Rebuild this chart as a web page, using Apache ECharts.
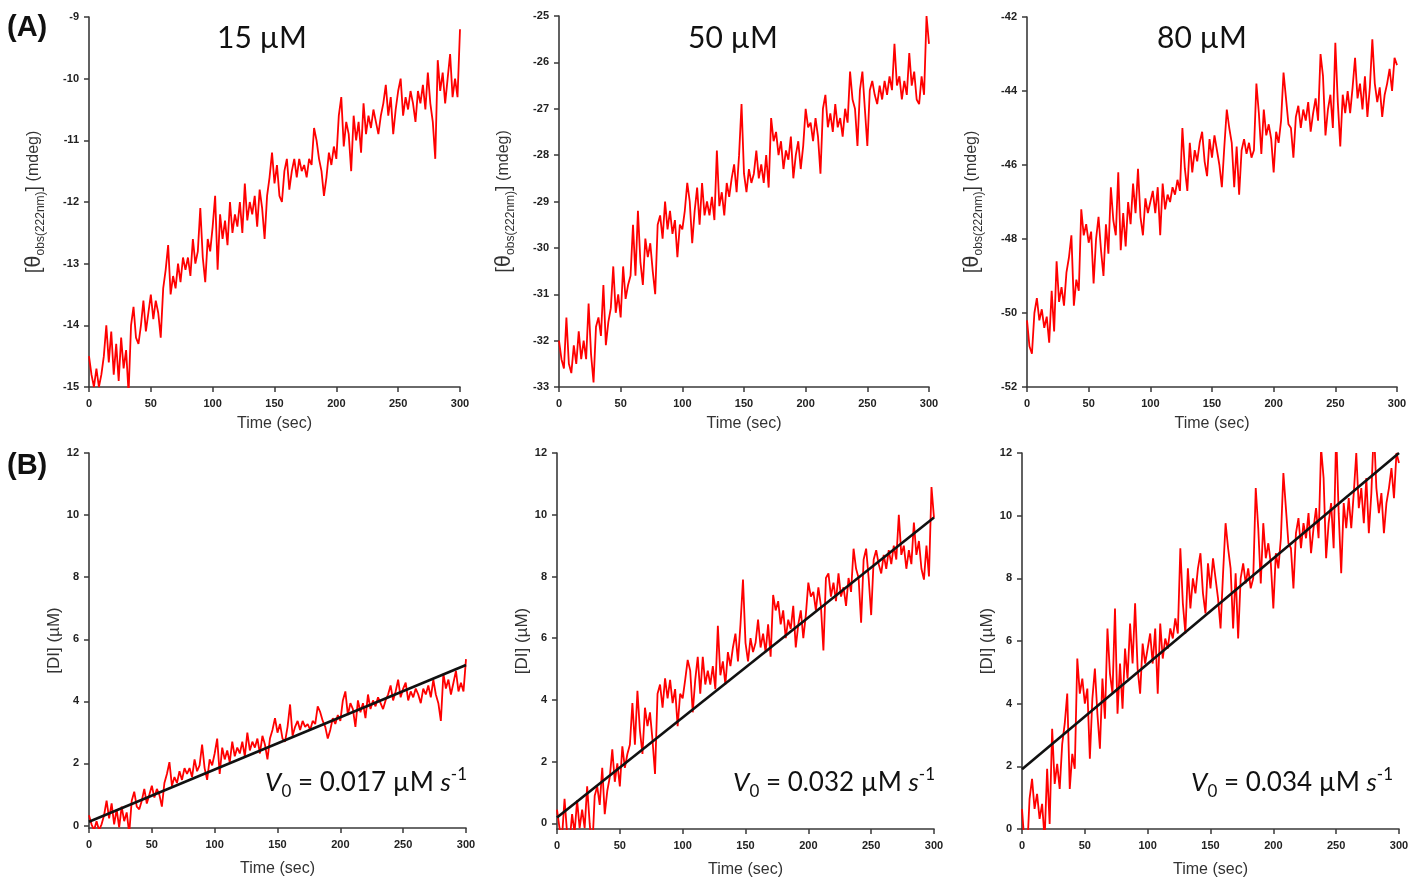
<!DOCTYPE html>
<html>
<head>
<meta charset="utf-8">
<script src="https://cdn.jsdelivr.net/npm/echarts@6/dist/echarts.min.js"></script>
<style>
html,body{margin:0;padding:0;background:#fff;}
#chart{width:1421px;height:878px;}
</style>
</head>
<body>
<div id="chart"></div>
<script>
// ---- data (one reading every 2 s) ----
const TIME = [0,2,4,6,8,10,12,14,16,18,20,22,24,26,28,30,32,34,36,38,40,42,44,46,48,50,52,54,56,58,
60,62,64,66,68,70,72,74,76,78,80,82,84,86,88,90,92,94,96,98,100,102,104,106,108,110,112,114,116,118,
120,122,124,126,128,130,132,134,136,138,140,142,144,146,148,150,152,154,156,158,160,162,164,166,168,170,172,174,176,178,
180,182,184,186,188,190,192,194,196,198,200,202,204,206,208,210,212,214,216,218,220,222,224,226,228,230,232,234,236,238,
240,242,244,246,248,250,252,254,256,258,260,262,264,266,268,270,272,274,276,278,280,282,284,286,288,290,292,294,296,298,300];

const THETA_15 = [-14.5,-14.8,-15.0,-14.7,-15.0,-14.8,-14.5,-14.0,-14.6,-14.1,
-14.8,-14.3,-14.9,-14.2,-14.7,-14.4,-15.1,-14.0,-13.7,-14.2,
-14.3,-14.0,-13.6,-14.1,-13.8,-13.5,-13.9,-13.6,-13.8,-14.2,
-13.4,-13.1,-12.7,-13.5,-13.2,-13.4,-13.0,-13.3,-12.9,-13.1,
-12.9,-13.2,-12.6,-13.0,-12.8,-12.1,-12.9,-13.3,-12.6,-12.8,
-12.4,-11.9,-13.1,-12.2,-12.6,-12.3,-12.7,-12.0,-12.5,-12.2,
-12.4,-12.0,-12.5,-11.7,-12.3,-12.0,-12.2,-11.9,-12.4,-11.8,
-12.1,-12.6,-11.9,-11.6,-11.2,-11.7,-11.4,-11.9,-12.0,-11.5,
-11.3,-11.8,-11.5,-11.3,-11.6,-11.3,-11.5,-11.4,-11.6,-11.3,
-11.4,-10.8,-11.0,-11.3,-11.5,-11.9,-11.6,-11.2,-11.4,-11.1,
-11.3,-10.6,-10.3,-11.1,-10.7,-10.9,-11.5,-10.6,-11.0,-10.7,
-11.2,-10.4,-10.9,-10.6,-10.8,-10.5,-10.7,-10.9,-10.6,-10.4,
-10.1,-10.6,-10.3,-10.9,-10.5,-10.2,-10.0,-10.6,-10.3,-10.5,
-10.2,-10.4,-10.7,-10.2,-10.4,-10.1,-10.5,-9.9,-10.4,-10.7,
-11.3,-9.7,-10.2,-9.9,-10.4,-10.0,-9.6,-10.3,-10.0,-10.3,
-9.2];

const THETA_50 = [-32.0,-32.4,-32.6,-31.5,-32.5,-32.7,-32.1,-32.5,-31.8,-32.4,
-32.0,-32.4,-31.2,-32.3,-32.9,-31.7,-31.5,-31.9,-30.8,-32.1,
-31.6,-31.3,-30.4,-31.4,-31.0,-31.5,-30.4,-31.1,-30.8,-30.6,
-29.5,-30.6,-29.2,-30.3,-30.8,-29.8,-30.2,-29.9,-30.5,-31.0,
-29.5,-29.3,-29.8,-29.0,-29.6,-29.2,-29.7,-29.4,-30.2,-29.5,
-29.6,-29.2,-28.6,-29.0,-29.9,-29.2,-28.7,-29.5,-28.6,-29.3,
-29.0,-29.3,-28.9,-29.4,-27.9,-29.1,-28.8,-29.3,-28.6,-28.9,
-28.5,-28.2,-28.8,-28.0,-26.9,-28.4,-28.8,-28.3,-28.6,-28.4,
-27.9,-28.5,-28.2,-28.6,-28.0,-28.7,-27.2,-27.7,-27.5,-28.0,
-27.7,-28.3,-27.9,-28.1,-27.6,-28.5,-28.0,-27.7,-28.3,-27.8,
-27.0,-27.4,-27.3,-27.7,-27.2,-27.6,-28.4,-27.0,-26.7,-27.4,
-27.1,-27.5,-26.9,-27.4,-27.2,-27.6,-27.0,-27.3,-26.2,-26.8,
-27.0,-27.8,-26.6,-26.2,-27.0,-27.8,-26.6,-26.4,-26.7,-26.9,
-26.5,-26.8,-26.4,-26.7,-26.3,-26.6,-25.6,-26.5,-26.3,-26.8,
-26.4,-26.7,-25.8,-26.5,-26.2,-26.8,-26.9,-26.3,-26.7,-25.0,
-25.6];

const THETA_80 = [-50.2,-50.9,-51.1,-50.0,-49.6,-50.2,-49.9,-50.4,-50.1,-50.8,
-49.4,-50.5,-48.6,-49.7,-49.3,-49.8,-48.9,-48.5,-47.9,-49.8,
-49.1,-49.4,-47.2,-47.9,-47.6,-48.1,-47.8,-49.2,-48.0,-47.4,
-48.3,-49.0,-47.6,-48.4,-46.6,-47.5,-47.9,-46.2,-48.3,-47.3,
-48.2,-47.0,-47.6,-46.5,-47.3,-46.1,-47.4,-47.9,-46.9,-47.3,
-47.0,-46.7,-47.3,-46.6,-47.9,-46.5,-47.2,-46.8,-47.0,-46.6,
-46.8,-46.4,-46.7,-45.0,-46.1,-46.7,-45.4,-46.2,-45.6,-45.9,
-45.4,-45.1,-45.9,-46.3,-45.3,-45.8,-45.2,-45.6,-46.0,-46.6,
-45.5,-44.5,-45.0,-45.4,-46.6,-45.5,-46.8,-45.6,-45.3,-45.7,
-45.4,-45.8,-45.6,-43.8,-44.6,-45.7,-44.5,-45.2,-44.9,-45.3,
-46.2,-45.1,-45.4,-44.8,-43.5,-44.2,-44.9,-45.0,-45.8,-44.7,
-44.4,-45.0,-44.5,-44.8,-44.3,-45.1,-44.6,-44.2,-44.8,-43.0,
-43.6,-45.2,-44.5,-44.1,-45.0,-42.7,-44.3,-45.5,-44.1,-44.6,
-44.0,-44.6,-43.9,-43.1,-44.2,-43.8,-44.5,-43.6,-44.7,-43.9,
-42.6,-43.8,-44.3,-43.9,-44.7,-44.1,-43.8,-43.4,-44.0,-43.1,
-43.3];

const DI_15 = [0.33,0.04,-0.15,0.14,-0.15,0.04,0.33,0.80,0.23,0.71,
0.04,0.52,-0.06,0.61,0.14,0.42,-0.25,0.80,1.09,0.61,
0.52,0.80,1.18,0.71,0.99,1.28,0.90,1.18,0.99,0.61,
1.37,1.66,2.04,1.28,1.56,1.37,1.75,1.47,1.85,1.66,
1.85,1.56,2.13,1.75,1.94,2.61,1.85,1.47,2.13,1.94,
2.32,2.80,1.66,2.51,2.13,2.42,2.04,2.70,2.23,2.51,
2.32,2.70,2.23,2.99,2.42,2.70,2.51,2.80,2.32,2.89,
2.61,2.13,2.80,3.08,3.46,2.99,3.27,2.80,2.70,3.18,
3.90,2.89,3.18,3.37,3.08,3.37,3.18,3.27,3.08,3.37,
3.27,3.84,3.65,3.37,3.18,2.80,3.08,3.46,3.27,3.56,
3.37,4.03,4.32,3.56,3.94,3.75,3.18,4.03,3.65,3.94,
3.46,4.22,3.75,4.03,3.84,4.13,3.94,3.75,4.03,4.22,
4.51,4.03,4.32,4.70,4.13,4.41,4.60,4.03,4.32,4.13,
4.41,4.22,3.94,4.41,4.22,4.51,4.13,4.70,4.22,3.94,
3.37,4.89,4.41,4.70,4.22,4.60,4.98,4.32,4.60,4.32,
5.36];

const DI_50 = [0.45,-0.15,-0.45,0.8,-0.3,-0.6,0.3,-0.3,0.75,-0.15,
0.45,-0.15,1.2,0.0,-0.9,0.9,1.2,0.6,1.8,0.3,
1.05,1.5,2.4,1.35,1.95,1.2,2.5,1.8,2.25,2.55,
3.9,2.55,4.3,3.0,2.25,3.75,3.15,3.6,2.7,1.6,
4.2,4.5,3.75,4.7,4.05,4.65,3.9,4.35,3.15,4.2,
4.05,4.65,5.3,4.95,3.6,4.65,5.4,4.2,5.4,4.5,
4.95,4.5,5.1,4.35,6.4,4.8,5.25,4.5,5.55,5.1,
5.7,6.15,5.25,6.45,7.9,5.85,5.25,6.0,5.55,5.85,
6.6,5.7,6.15,5.55,6.45,5.4,7.4,6.9,7.2,6.45,
6.9,6.0,6.6,6.3,7.05,5.7,6.45,6.9,6.0,6.75,
7.8,7.35,7.5,6.9,7.65,7.05,5.6,7.95,8.1,7.35,
7.8,7.2,8.1,7.35,7.65,7.05,7.95,7.5,8.9,8.25,
7.95,6.5,8.55,8.9,7.95,6.75,8.55,8.85,8.4,8.1,
8.7,8.25,8.85,8.4,9.0,8.55,10.0,8.7,9.0,8.25,
8.85,8.4,9.75,8.7,9.15,8.25,7.9,9.0,8.0,10.9,
9.9];

const DI_80 = [0.64,-0.48,-0.8,0.96,1.6,0.64,1.12,0.32,0.8,-0.32,
1.92,0.16,3.2,1.44,2.08,1.28,2.72,3.36,4.32,1.28,
2.4,1.92,5.44,4.32,4.8,4.0,4.48,2.24,4.16,5.12,
3.68,2.56,4.8,3.52,6.4,4.96,4.32,7.04,3.68,5.28,
3.84,5.76,4.8,6.56,5.28,7.2,5.12,4.32,5.92,5.28,
5.76,6.24,5.28,6.4,4.32,6.56,5.44,6.08,5.76,6.4,
6.08,6.72,6.24,8.96,7.2,6.24,8.32,7.04,8.0,7.52,
8.32,8.8,7.52,6.88,8.48,7.68,8.64,8.0,7.36,6.4,
8.16,9.76,8.96,8.32,6.4,8.16,6.08,8.0,8.48,7.84,
8.32,7.68,8.0,10.88,9.6,7.84,9.76,8.64,9.12,8.48,
7.04,8.8,8.32,9.28,11.36,10.24,9.12,8.96,7.68,9.44,
9.92,8.96,9.76,9.28,10.08,8.8,9.6,10.24,9.28,12.16,
11.2,8.64,9.76,10.4,8.96,12.64,10.08,8.16,10.4,9.6,
10.56,9.6,10.72,12.0,10.24,10.88,9.76,11.2,9.44,10.72,
12.8,10.88,10.08,10.72,9.44,10.4,10.88,11.52,10.56,12.0,
11.68];

// linear fits (end points)
const FIT_TIME = [0, 300];
const FIT_15 = [0.12, 5.17];
const FIT_50 = [0.19, 9.91];
const FIT_80 = [1.91, 12.0];

const CONC_LABELS = ['15 µM', '50 µM', '80 µM'];
const V0_LABELS = ['0.017', '0.032', '0.034'];
const DI_TICKS = [0, 2, 4, 6, 8, 10, 12];

// ---- chart ----
const AXFONT = "'Liberation Sans', Arial, sans-serif";
const AXCOL = '#3a3a3a';

function pairs(xs, ys) { return xs.map((x, i) => [x, ys[i]]); }

const panels = [
  {grid: {left: 89, top: 17, width: 371, height: 370}, y: {min: -15, max: -9, interval: 1}, data: THETA_15, kind: 'A'},
  {grid: {left: 559, top: 16, width: 370, height: 371}, y: {min: -33, max: -25, interval: 1}, data: THETA_50, kind: 'A'},
  {grid: {left: 1027, top: 17, width: 370, height: 370}, y: {min: -52, max: -42, interval: 2}, data: THETA_80, kind: 'A'},
  {grid: {left: 89, top: 453, width: 377, height: 375}, y: {min: -0.08, max: 12, custom: DI_TICKS}, data: DI_15, fit: FIT_15, kind: 'B'},
  {grid: {left: 557, top: 453, width: 377, height: 376}, y: {min: -0.18, max: 12, custom: DI_TICKS}, data: DI_50, fit: FIT_50, kind: 'B'},
  {grid: {left: 1022, top: 453, width: 377, height: 376}, y: {min: 0, max: 12, interval: 2}, data: DI_80, fit: FIT_80, kind: 'B'}
];

const grids = [], xAxes = [], yAxes = [], series = [];
panels.forEach((p, i) => {
  grids.push(Object.assign({containLabel: false, outerBoundsMode: 'none'}, p.grid));
  xAxes.push({
    gridIndex: i, type: 'value', min: 0, max: 300, interval: 50,
    name: 'Time (sec)', nameLocation: 'middle', nameGap: p.kind === 'A' ? 29 : 33,
    nameTextStyle: {fontFamily: AXFONT, fontSize: 16, color: '#333'},
    axisLine: {show: true, onZero: false, lineStyle: {color: AXCOL, width: 1.6}},
    axisTick: {show: true, inside: false, length: 5, lineStyle: {color: AXCOL, width: 1.5}},
    axisLabel: {fontFamily: AXFONT, fontSize: 11, fontWeight: 'bold', color: '#222', margin: 11},
    splitLine: {show: false}
  });
  const y = {
    gridIndex: i, type: 'value', min: p.y.min, max: p.y.max,
    nameLocation: 'middle', nameRotate: 90,
    axisLine: {show: true, onZero: false, lineStyle: {color: AXCOL, width: 1.6}},
    axisTick: {show: true, inside: false, length: 5, lineStyle: {color: AXCOL, width: 1.5}},
    axisLabel: {fontFamily: AXFONT, fontSize: 11, fontWeight: 'bold', color: '#222', margin: 10},
    splitLine: {show: false}
  };
  if (p.y.custom) {
    y.axisLabel.customValues = p.y.custom;
    y.axisTick.customValues = p.y.custom;
  } else {
    y.interval = p.y.interval;
  }
  if (p.kind === 'A') {
    y.name = '{b|[}{t|θ}{s|obs(222nm)}{b|]}{n| (mdeg)}';
    y.nameGap = 42;
    y.nameTextStyle = {
      fontFamily: AXFONT, color: '#333', fontSize: 16,
      rich: {
        b: {fontFamily: AXFONT, fontSize: 20, color: '#333', lineHeight: 26, verticalAlign: 'middle'},
        t: {fontFamily: AXFONT, fontSize: 22, color: '#333', lineHeight: 26, verticalAlign: 'middle'},
        s: {fontFamily: AXFONT, fontSize: 12, color: '#333', lineHeight: 26, verticalAlign: 'bottom'},
        n: {fontFamily: AXFONT, fontSize: 16, color: '#333', lineHeight: 26, verticalAlign: 'middle'}
      }
    };
  } else {
    y.name = '[DI] (µM)';
    y.nameGap = 22;
    y.nameTextStyle = {fontFamily: AXFONT, fontSize: 17, color: '#333'};
  }
  yAxes.push(y);
  series.push({
    type: 'line', xAxisIndex: i, yAxisIndex: i, data: pairs(TIME, p.data),
    showSymbol: false, symbol: 'none', clip: true, z: 2,
    lineStyle: {color: '#ff0000', width: 1.8}
  });
  if (p.fit) {
    series.push({
      type: 'line', xAxisIndex: i, yAxisIndex: i, data: pairs(FIT_TIME, p.fit),
      showSymbol: false, symbol: 'none', clip: true, z: 3,
      lineStyle: {color: '#111', width: 2.6}
    });
  }
});

const TFONT = "Lato, 'Open Sans', sans-serif";
const titles = [
  {text: '(A)', left: 7, top: 13, padding: 0, textStyle: {fontFamily: AXFONT, fontSize: 29, fontWeight: 'bold', color: '#111', lineHeight: 30}},
  {text: '(B)', left: 7, top: 451, padding: 0, textStyle: {fontFamily: AXFONT, fontSize: 29, fontWeight: 'bold', color: '#111', lineHeight: 30}}
];
const concCenters = [262, 733, 1202];
CONC_LABELS.forEach((t, i) => {
  titles.push({text: t, left: concCenters[i], top: 22, textAlign: 'center', padding: 0,
    textStyle: {fontFamily: TFONT, fontSize: 30, fontWeight: 'normal', color: '#111', lineHeight: 32}});
});
const v0Right = [954, 486, 28];
V0_LABELS.forEach((v, i) => {
  titles.push({
    text: '{i|V}{sub|0}{n| = ' + v + ' µM }{i|s}{sup|-1}',
    right: v0Right[i], top: 766, padding: 0,
    textStyle: {
      fontFamily: TFONT, fontSize: 26, fontWeight: 'normal', color: '#111',
      rich: {
        i: {fontFamily: TFONT, fontSize: 26, fontStyle: 'italic', fontWeight: 'normal', color: '#111', lineHeight: 34, verticalAlign: 'middle'},
        n: {fontFamily: TFONT, fontSize: 26, fontWeight: 'normal', color: '#111', lineHeight: 34, verticalAlign: 'middle'},
        sub: {fontFamily: TFONT, fontSize: 17, fontWeight: 'normal', color: '#111', lineHeight: 34, verticalAlign: 'bottom'},
        sup: {fontFamily: TFONT, fontSize: 17, fontWeight: 'normal', color: '#111', lineHeight: 34, verticalAlign: 'top'}
      }
    }
  });
});

const chart = echarts.init(document.getElementById('chart'), null, {renderer: 'canvas'});
chart.setOption({
  animation: false,
  backgroundColor: '#ffffff',
  title: titles,
  grid: grids,
  xAxis: xAxes,
  yAxis: yAxes,
  series: series
});
</script>
</body>
</html>
